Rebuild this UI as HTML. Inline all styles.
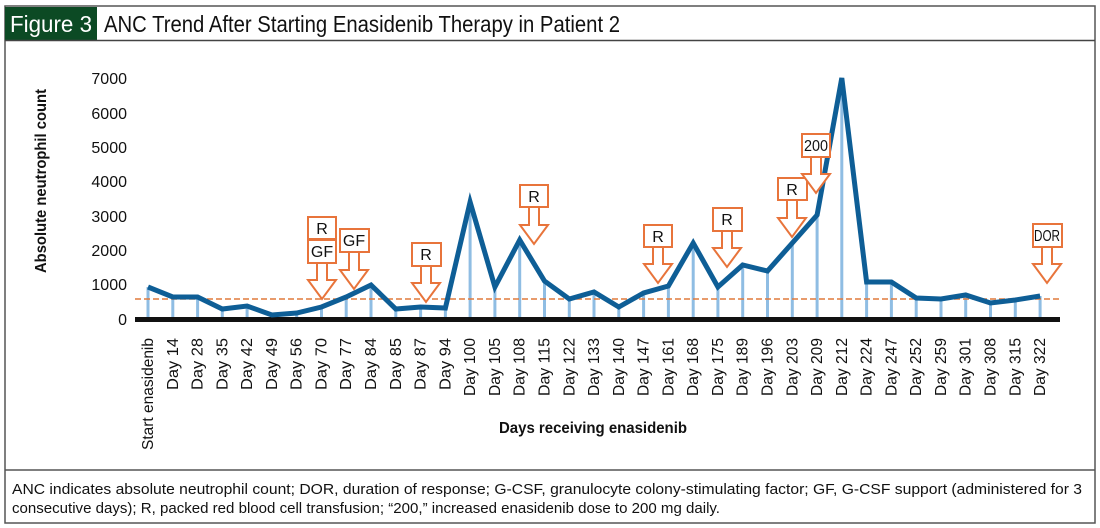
<!DOCTYPE html>
<html><head><meta charset="utf-8"><style>
html,body{margin:0;padding:0;background:#fff}
svg{display:block}
text{font-family:"Liberation Sans Narrow","Liberation Sans",sans-serif}
</style></head><body>
<svg width="1100" height="528" viewBox="0 0 1100 528" xmlns="http://www.w3.org/2000/svg">
<rect x="0" y="0" width="1100" height="528" fill="#fff"/>
<rect x="5" y="6" width="1090" height="517" fill="none" stroke="#555" stroke-width="1.5"/>
<rect x="5" y="7" width="92" height="33" fill="#0c4a24"/>
<text x="51" y="32" fill="#fff" font-size="23" text-anchor="middle" textLength="82" lengthAdjust="spacingAndGlyphs">Figure 3</text>
<text x="104" y="32" fill="#111" font-size="23" textLength="516" lengthAdjust="spacingAndGlyphs">ANC Trend After Starting Enasidenib Therapy in Patient 2</text>
<line x1="5" y1="40.5" x2="1095" y2="40.5" stroke="#444" stroke-width="1.5"/>
<line x1="5" y1="470" x2="1095" y2="470" stroke="#555" stroke-width="1.5"/>
<text x="12" y="494" font-size="15" fill="#111" textLength="1070" lengthAdjust="spacingAndGlyphs">ANC indicates absolute neutrophil count; DOR, duration of response; G-CSF, granulocyte colony-stimulating factor; GF, G-CSF support (administered for 3</text>
<text x="12" y="513" font-size="15" fill="#111" textLength="708" lengthAdjust="spacingAndGlyphs">consecutive days); R, packed red blood cell transfusion; “200,” increased enasidenib dose to 200 mg daily.</text>

<text transform="translate(46,181) rotate(-90)" font-size="16" font-weight="bold" text-anchor="middle" fill="#111" textLength="184" lengthAdjust="spacingAndGlyphs">Absolute neutrophil count</text>
<g font-size="16" fill="#111" text-anchor="end">
<text x="127" y="84">7000</text><text x="127" y="119">6000</text><text x="127" y="153">5000</text><text x="127" y="187">4000</text><text x="127" y="222">3000</text><text x="127" y="256">2000</text><text x="127" y="290">1000</text><text x="127" y="325">0</text>
</g>
<text x="593" y="433" font-size="16" font-weight="bold" text-anchor="middle" fill="#111" textLength="188" lengthAdjust="spacingAndGlyphs">Days receiving enasidenib</text>

<g stroke="#8fbde3" stroke-width="3">
<line x1="148" y1="287" x2="148" y2="318"/><line x1="172.8" y1="297" x2="172.8" y2="318"/><line x1="197.6" y1="297" x2="197.6" y2="318"/><line x1="222.3" y1="309" x2="222.3" y2="318"/><line x1="247.1" y1="306" x2="247.1" y2="318"/><line x1="271.9" y1="315" x2="271.9" y2="318"/><line x1="296.7" y1="313" x2="296.7" y2="318"/><line x1="321.5" y1="307" x2="321.5" y2="318"/><line x1="346.2" y1="297" x2="346.2" y2="318"/><line x1="371" y1="285" x2="371" y2="318"/><line x1="395.8" y1="309" x2="395.8" y2="318"/><line x1="420.6" y1="307" x2="420.6" y2="318"/><line x1="445.4" y1="308" x2="445.4" y2="318"/><line x1="470.1" y1="202" x2="470.1" y2="318"/><line x1="494.9" y1="287" x2="494.9" y2="318"/><line x1="519.7" y1="240" x2="519.7" y2="318"/><line x1="544.5" y1="281" x2="544.5" y2="318"/><line x1="569.3" y1="299" x2="569.3" y2="318"/><line x1="594" y1="292" x2="594" y2="318"/><line x1="618.8" y1="307" x2="618.8" y2="318"/><line x1="643.6" y1="293" x2="643.6" y2="318"/><line x1="668.4" y1="286" x2="668.4" y2="318"/><line x1="693.2" y1="243" x2="693.2" y2="318"/><line x1="717.9" y1="287" x2="717.9" y2="318"/><line x1="742.7" y1="265" x2="742.7" y2="318"/><line x1="767.5" y1="271" x2="767.5" y2="318"/><line x1="792.3" y1="243" x2="792.3" y2="318"/><line x1="817.1" y1="215" x2="817.1" y2="318"/><line x1="841.8" y1="78" x2="841.8" y2="318"/><line x1="866.6" y1="282" x2="866.6" y2="318"/><line x1="891.4" y1="282" x2="891.4" y2="318"/><line x1="916.2" y1="298" x2="916.2" y2="318"/><line x1="941" y1="299" x2="941" y2="318"/><line x1="965.7" y1="295" x2="965.7" y2="318"/><line x1="990.5" y1="303" x2="990.5" y2="318"/><line x1="1015.3" y1="300" x2="1015.3" y2="318"/><line x1="1040.1" y1="296" x2="1040.1" y2="318"/>
</g>
<line x1="135" y1="299" x2="1060" y2="299" stroke="#e07a3c" stroke-width="1.5" stroke-dasharray="6,3"/>
<line x1="135" y1="319.5" x2="1060" y2="319.5" stroke="#111" stroke-width="5"/>
<polyline fill="none" stroke="#0e5e96" stroke-width="5" stroke-linejoin="miter" points="148,287 172.8,297 197.6,297 222.3,309 247.1,306 271.9,315 296.7,313 321.5,307 346.2,297 371,285 395.8,309 420.6,307 445.4,308 470.1,202 494.9,287 519.7,240 544.5,281 569.3,299 594,292 618.8,307 643.6,293 668.4,286 693.2,243 717.9,287 742.7,265 767.5,271 792.3,243 817.1,215 841.8,78 866.6,282 891.4,282 916.2,298 941,299 965.7,295 990.5,303 1015.3,300 1040.1,296"/>

<g fill="#fff" stroke="#e8743b" stroke-width="2">
<path d="M317,263 L317,280 L308,280 L322,299 L336,280 L327,280 L327,263 Z"/>
<rect x="308" y="217" width="28" height="22"/><rect x="308" y="240" width="28" height="23"/>
<path d="M349,252 L349,270 L340,270 L354,289 L368,270 L359,270 L359,252 Z"/>
<rect x="340" y="229" width="29" height="23"/>
<path d="M421,266 L421,283 L412,283 L426,302 L440,283 L431,283 L431,266 Z"/>
<rect x="412" y="243" width="29" height="23"/>
<path d="M529,207 L529,225 L520,225 L534,244 L548,225 L539,225 L539,207 Z"/>
<rect x="520" y="185" width="28" height="22"/>
<path d="M653,247 L653,264 L644,264 L658,283 L672,264 L663,264 L663,247 Z"/>
<rect x="644" y="225" width="28" height="22"/>
<path d="M722,231 L722,248 L713,248 L727,267 L741,248 L732,248 L732,231 Z"/>
<rect x="713" y="208" width="29" height="23"/>
<path d="M787,200 L787,218 L778,218 L792,237 L806,218 L797,218 L797,200 Z"/>
<rect x="778" y="178" width="29" height="22"/>
<path d="M811,157 L811,174 L802,174 L816,193 L830,174 L821,174 L821,157 Z"/>
<rect x="802" y="134" width="28" height="23"/>
<path d="M1042,247 L1042,264 L1033,264 L1047,283 L1061,264 L1052,264 L1052,247 Z"/>
<rect x="1033" y="224" width="29" height="23"/>
</g>
<g font-size="16" fill="#111" text-anchor="middle">
<text x="322" y="234">R</text><text x="322" y="257">GF</text><text x="354" y="246">GF</text><text x="426" y="260">R</text><text x="534" y="202">R</text><text x="658" y="242">R</text><text x="727" y="225">R</text><text x="792" y="195">R</text><text x="816" y="151" textLength="24" lengthAdjust="spacingAndGlyphs">200</text><text x="1047" y="241" textLength="26" lengthAdjust="spacingAndGlyphs">DOR</text>
</g>

<g font-size="16" fill="#111" text-anchor="end" lengthAdjust="spacingAndGlyphs">
<text transform="translate(153,338) rotate(-90)" textLength="112" lengthAdjust="spacingAndGlyphs">Start enasidenib</text>
<text transform="translate(177.8,338) rotate(-90)" textLength="52" lengthAdjust="spacingAndGlyphs">Day 14</text>
<text transform="translate(202.6,338) rotate(-90)" textLength="52" lengthAdjust="spacingAndGlyphs">Day 28</text>
<text transform="translate(227.3,338) rotate(-90)" textLength="52" lengthAdjust="spacingAndGlyphs">Day 35</text>
<text transform="translate(252.1,338) rotate(-90)" textLength="52" lengthAdjust="spacingAndGlyphs">Day 42</text>
<text transform="translate(276.9,338) rotate(-90)" textLength="52" lengthAdjust="spacingAndGlyphs">Day 49</text>
<text transform="translate(301.7,338) rotate(-90)" textLength="52" lengthAdjust="spacingAndGlyphs">Day 56</text>
<text transform="translate(326.5,338) rotate(-90)" textLength="52" lengthAdjust="spacingAndGlyphs">Day 70</text>
<text transform="translate(351.2,338) rotate(-90)" textLength="52" lengthAdjust="spacingAndGlyphs">Day 77</text>
<text transform="translate(376,338) rotate(-90)" textLength="52" lengthAdjust="spacingAndGlyphs">Day 84</text>
<text transform="translate(400.8,338) rotate(-90)" textLength="52" lengthAdjust="spacingAndGlyphs">Day 85</text>
<text transform="translate(425.6,338) rotate(-90)" textLength="52" lengthAdjust="spacingAndGlyphs">Day 87</text>
<text transform="translate(450.4,338) rotate(-90)" textLength="52" lengthAdjust="spacingAndGlyphs">Day 94</text>
<text transform="translate(475.1,338) rotate(-90)" textLength="58" lengthAdjust="spacingAndGlyphs">Day 100</text>
<text transform="translate(499.9,338) rotate(-90)" textLength="58" lengthAdjust="spacingAndGlyphs">Day 105</text>
<text transform="translate(524.7,338) rotate(-90)" textLength="58" lengthAdjust="spacingAndGlyphs">Day 108</text>
<text transform="translate(549.5,338) rotate(-90)" textLength="58" lengthAdjust="spacingAndGlyphs">Day 115</text>
<text transform="translate(574.3,338) rotate(-90)" textLength="58" lengthAdjust="spacingAndGlyphs">Day 122</text>
<text transform="translate(599,338) rotate(-90)" textLength="58" lengthAdjust="spacingAndGlyphs">Day 133</text>
<text transform="translate(623.8,338) rotate(-90)" textLength="58" lengthAdjust="spacingAndGlyphs">Day 140</text>
<text transform="translate(648.6,338) rotate(-90)" textLength="58" lengthAdjust="spacingAndGlyphs">Day 147</text>
<text transform="translate(673.4,338) rotate(-90)" textLength="58" lengthAdjust="spacingAndGlyphs">Day 161</text>
<text transform="translate(698.2,338) rotate(-90)" textLength="58" lengthAdjust="spacingAndGlyphs">Day 168</text>
<text transform="translate(722.9,338) rotate(-90)" textLength="58" lengthAdjust="spacingAndGlyphs">Day 175</text>
<text transform="translate(747.7,338) rotate(-90)" textLength="58" lengthAdjust="spacingAndGlyphs">Day 189</text>
<text transform="translate(772.5,338) rotate(-90)" textLength="58" lengthAdjust="spacingAndGlyphs">Day 196</text>
<text transform="translate(797.3,338) rotate(-90)" textLength="58" lengthAdjust="spacingAndGlyphs">Day 203</text>
<text transform="translate(822.1,338) rotate(-90)" textLength="58" lengthAdjust="spacingAndGlyphs">Day 209</text>
<text transform="translate(846.8,338) rotate(-90)" textLength="58" lengthAdjust="spacingAndGlyphs">Day 212</text>
<text transform="translate(871.6,338) rotate(-90)" textLength="58" lengthAdjust="spacingAndGlyphs">Day 224</text>
<text transform="translate(896.4,338) rotate(-90)" textLength="58" lengthAdjust="spacingAndGlyphs">Day 247</text>
<text transform="translate(921.2,338) rotate(-90)" textLength="58" lengthAdjust="spacingAndGlyphs">Day 252</text>
<text transform="translate(946,338) rotate(-90)" textLength="58" lengthAdjust="spacingAndGlyphs">Day 259</text>
<text transform="translate(970.7,338) rotate(-90)" textLength="58" lengthAdjust="spacingAndGlyphs">Day 301</text>
<text transform="translate(995.5,338) rotate(-90)" textLength="58" lengthAdjust="spacingAndGlyphs">Day 308</text>
<text transform="translate(1020.3,338) rotate(-90)" textLength="58" lengthAdjust="spacingAndGlyphs">Day 315</text>
<text transform="translate(1045.1,338) rotate(-90)" textLength="58" lengthAdjust="spacingAndGlyphs">Day 322</text>
</g>
</svg>
</body></html>
